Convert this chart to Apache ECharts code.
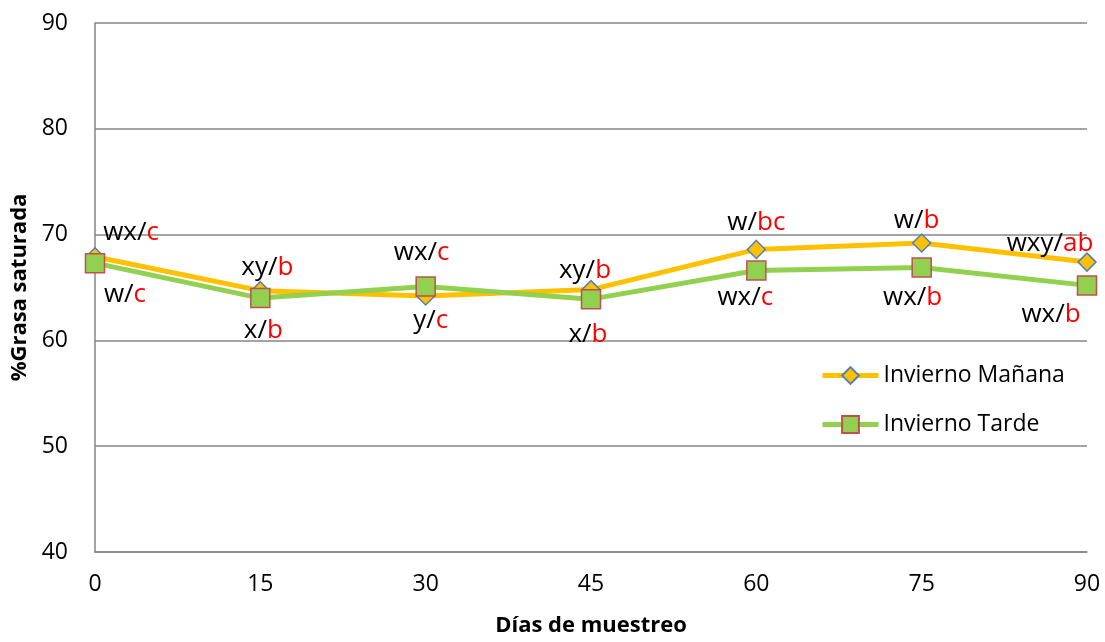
<!DOCTYPE html>
<html><head><meta charset="utf-8">
<script src="https://cdn.jsdelivr.net/npm/echarts@6/dist/echarts.min.js"></script>
<style>html,body{margin:0;padding:0;background:#fff}#c{width:1105px;height:642px}</style>
</head><body><div id="c"></div>
<script>
// ---- data ----
const dias = ['0','15','30','45','60','75','90'];
const manana = [67.9, 64.7, 64.2, 64.8, 68.6, 69.2, 67.4];
const tarde  = [67.3, 64.0, 65.1, 63.9, 66.6, 66.9, 65.2];
const mananaLetras = ['wx','xy','y','xy','w','w','wxy'];
const mananaGrupos = ['c','b','c','b','bc','b','ab'];
const tardeLetras  = ['w','x','wx','x','wx','wx','wx'];
const tardeGrupos  = ['c','b','c','b','c','b','b'];
const yTicks = [40, 50, 60, 70, 80, 90];
const serieNames = ['Invierno Mañana', 'Invierno Tarde'];

// ---- layout of labels (pixel offsets from point) ----
const mananaOff = [[36,-24],[7,-23],[5,25],[-6,-19],[0,-27],[-5,-22],[-37,-19]];
const tardeOff  = [[30,31],[3,33],[-4,-34],[-3,35],[-11,27],[-9,30],[-36,29]];

const FONT = 'Open Sans';
const FS = 23;
const rich = {
  k: {color:'#000', fontSize:26, fontFamily:FONT},
  r: {color:'#ff0000', fontSize:26, fontFamily:FONT}
};
function mk(vals, letras, grupos, offs){
  return vals.map((v,i)=>({
    value: v,
    label: {
      show: true, position: 'inside', offset: offs[i],
      formatter: '{k|' + letras[i] + '/}{r|' + grupos[i] + '}', rich: rich
    }
  }));
}

const chart = echarts.init(document.getElementById('c'), null, {renderer:'canvas'});
chart.setOption({
  animation: false,
  backgroundColor: '#fff',
  grid: {left: 95, right: 18, top: 23, bottom: 90, containLabel: false},
  legend: {
    orient: 'vertical', left: 815, top: 359, itemGap: 26,
    itemWidth: 56, itemHeight: 21,
    lineStyle: {width: 5},
    textStyle: {fontSize: FS, fontFamily: FONT, color: '#000'},
    data: serieNames
  },
  xAxis: {
    type: 'category', data: dias, boundaryGap: false,
    name: 'Días de muestreo', nameLocation: 'middle', nameGap: 63,
    nameTextStyle: {fontSize: 22, fontWeight: 'bold', fontFamily: FONT, color: '#000'},
    axisLine: {lineStyle: {color: '#868686', width: 1.5}},
    axisTick: {show: false},
    axisLabel: {fontSize: FS, fontFamily: FONT, color: '#000', margin: 21},
    splitLine: {show: false}
  },
  yAxis: {
    type: 'value', min: 40, max: 90, interval: 10,
    name: '%Grasa saturada', nameLocation: 'middle', nameGap: 62,
    nameTextStyle: {fontSize: 22, fontWeight: 'bold', fontFamily: FONT, color: '#000'},
    axisLine: {show: true, lineStyle: {color: '#868686', width: 1.5}},
    axisTick: {show: false},
    axisLabel: {fontSize: FS, fontFamily: FONT, color: '#000', margin: 27,
      formatter: v => yTicks.includes(v) ? String(v) : ''},
    splitLine: {lineStyle: {color: '#868686', width: 1.5}}
  },
  series: [
    {
      name: serieNames[0], type: 'line', data: mk(manana, mananaLetras, mananaGrupos, mananaOff),
      lineStyle: {color: '#FFC000', width: 5},
      itemStyle: {color: '#FFC000', borderColor: '#4F81BD', borderWidth: 1.5},
      symbol: 'diamond', symbolSize: 18, showAllSymbol: true, z: 2
    },
    {
      name: serieNames[1], type: 'line', data: mk(tarde, tardeLetras, tardeGrupos, tardeOff),
      lineStyle: {color: '#92D050', width: 5},
      itemStyle: {color: '#92D050', borderColor: '#C0504D', borderWidth: 1.5},
      symbol: 'rect', symbolSize: 19, showAllSymbol: true, z: 3
    }
  ]
});
</script></body></html>
